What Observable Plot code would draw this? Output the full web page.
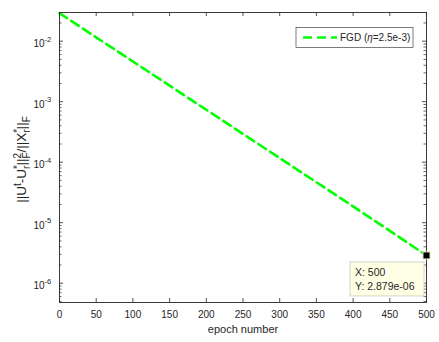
<!DOCTYPE html>
<html><head><meta charset="utf-8">
<script src="https://cdn.jsdelivr.net/npm/d3@7"></script>
<script src="https://cdn.jsdelivr.net/npm/@observablehq/plot@0.6"></script>
<style>body{margin:0;background:#fff} svg{font-family:"Liberation Sans",Arial,sans-serif}</style>
</head><body><div id="chart"></div>
<script>
// ---- data ----
const epochs = [0, 100, 200, 300, 400, 500];
const errors = [0.0290, 4.62e-3, 7.35e-4, 1.17e-4, 1.86e-5, 2.879e-6];
const seriesName = "FGD";
const stepSize = "2.5e-3";
const xTicks = [0, 50, 100, 150, 200, 250, 300, 350, 400, 450, 500];
const yTicks = [1e-6, 1e-5, 1e-4, 1e-3, 1e-2];
const yExponents = ["-6", "-5", "-4", "-3", "-2"];
const tipX = 500, tipY = 2.879e-6, tipYText = "2.879e-06";
const xDomain = [0, 500], yDomain = [4.8e-7, 0.0298];
const xLabel = "epoch number";

// ---- layout ----
const W = 439, H = 342, mL = 59, mR = 13, mT = 12, mB = 40;
const PW = W - mL - mR, PH = H - mT - mB;
const ink = "#262626";

const minor = [];
for (let e = -7; e <= -1; e++) for (let k = 2; k <= 9; k++) {
  const v = k * Math.pow(10, e);
  if (v >= yDomain[0] && v <= yDomain[1]) minor.push(v);
}
const data = epochs.map((x, i) => ({x, y: errors[i]}));

const plot = Plot.plot({
  width: W, height: H,
  marginLeft: mL, marginRight: mR, marginTop: mT, marginBottom: mB,
  style: {fontFamily: '"Liberation Sans", Arial, sans-serif', fontSize: "10px", color: ink, background: "white"},
  x: {domain: xDomain},
  y: {type: "log", domain: yDomain},
  marks: [
    Plot.line(data, {x: "x", y: "y", stroke: "#00ff00", strokeWidth: 2.6, strokeDasharray: "9,5"}),
    Plot.tickX(xTicks, {x: d => d, insetTop: PH - 4, stroke: ink, strokeWidth: 0.8}),
    Plot.tickX(xTicks, {x: d => d, insetBottom: PH - 4, stroke: ink, strokeWidth: 0.8}),
    Plot.tickY(yTicks, {y: d => d, insetRight: PW - 4, stroke: ink, strokeWidth: 0.8}),
    Plot.tickY(yTicks, {y: d => d, insetLeft: PW - 4, stroke: ink, strokeWidth: 0.8}),
    Plot.tickY(minor, {y: d => d, insetRight: PW - 2.5, stroke: ink, strokeWidth: 0.7}),
    Plot.tickY(minor, {y: d => d, insetLeft: PW - 2.5, stroke: ink, strokeWidth: 0.7}),
    Plot.frame({stroke: ink, strokeWidth: 0.9}),
    Plot.axisX({ticks: xTicks, tickSize: 0, tickPadding: 8, label: null, fontSize: 10}),
    Plot.axisY({ticks: [], tickSize: 0, label: null}),
    Plot.text(yTicks, {y: d => d, text: () => "10", frameAnchor: "left", textAnchor: "end", dx: -15, dy: 3, fontSize: 10}),
    Plot.text(yTicks, {y: d => d, text: (d, i) => yExponents[i], frameAnchor: "left", textAnchor: "start", dx: -15, dy: -2, fontSize: 7.5}),
    Plot.text([xLabel], {text: d => d, frameAnchor: "bottom", dy: 30.5, fontSize: 11}),
    Plot.dot([{x: tipX, y: tipY}], {x: "x", y: "y", symbol: "square", r: 4, fill: "black", stroke: "#f3f0c8", strokeWidth: 1})
  ]
});
document.getElementById("chart").appendChild(plot);

const svg = d3.select(plot);
const sx = plot.scale("x"), sy = plot.scale("y");

// ---- data tip ----
const px = sx.apply(tipX), py = sy.apply(tipY);
const tip = svg.append("g").attr("text-anchor", "start");
tip.append("rect").attr("x", px - 76).attr("y", py + 7).attr("width", 74).attr("height", 34)
  .attr("fill", "#ffffe6").attr("stroke", "#d6d6c2").attr("stroke-width", 1);
tip.append("text").attr("x", px - 71).attr("y", py + 21).attr("font-size", 10.5).attr("fill", ink).text("X: " + tipX);
tip.append("text").attr("x", px - 71).attr("y", py + 35).attr("font-size", 10.5).attr("fill", ink).text("Y: " + tipYText);

// ---- legend ----
const lg = svg.append("g").attr("text-anchor", "start");
lg.append("rect").attr("x", 296).attr("y", 27.5).attr("width", 117).attr("height", 20)
  .attr("fill", "white").attr("stroke", ink).attr("stroke-width", 0.6);
lg.append("line").attr("x1", 303).attr("x2", 337).attr("y1", 37.5).attr("y2", 37.5)
  .attr("stroke", "#00ff00").attr("stroke-width", 2.6).attr("stroke-dasharray", "9,5");
const lt = lg.append("text").attr("x", 340).attr("y", 41).attr("font-size", 10).attr("fill", ink);
lt.append("tspan").text(seriesName + " (");
lt.append("tspan").attr("font-style", "italic").text("η");
lt.append("tspan").text("=" + stepSize + ")");

// ---- y label with sub/superscripts ----
const yl = svg.append("text").attr("transform", `translate(${26},${159.5}) rotate(-90)`)
  .attr("text-anchor", "middle").attr("font-size", 13.5).attr("fill", ink);
let cur = 0;
function add(t, shift, size, dx) {
  const s = yl.append("tspan").attr("dy", shift - cur).text(t);
  if (size) s.attr("font-size", size);
  if (dx) s.attr("dx", dx);
  cur = shift;
  return s;
}
const sup = -5.5, sub = 4, ss = 10;
add("||U", 0);
add("t", sup, ss);
add("-U", 0);
let a = add("*", sup, ss);
add("r", sub, ss, -a.node().getComputedTextLength());
add("||", 0);
a = add("2", sup, ss);
add("F", sub, ss, -a.node().getComputedTextLength());
add("/||X", 0);
a = add("*", sup, ss);
add("r", sub, ss, -a.node().getComputedTextLength());
add("||", 0);
add("F", sub, ss);
</script></body></html>
